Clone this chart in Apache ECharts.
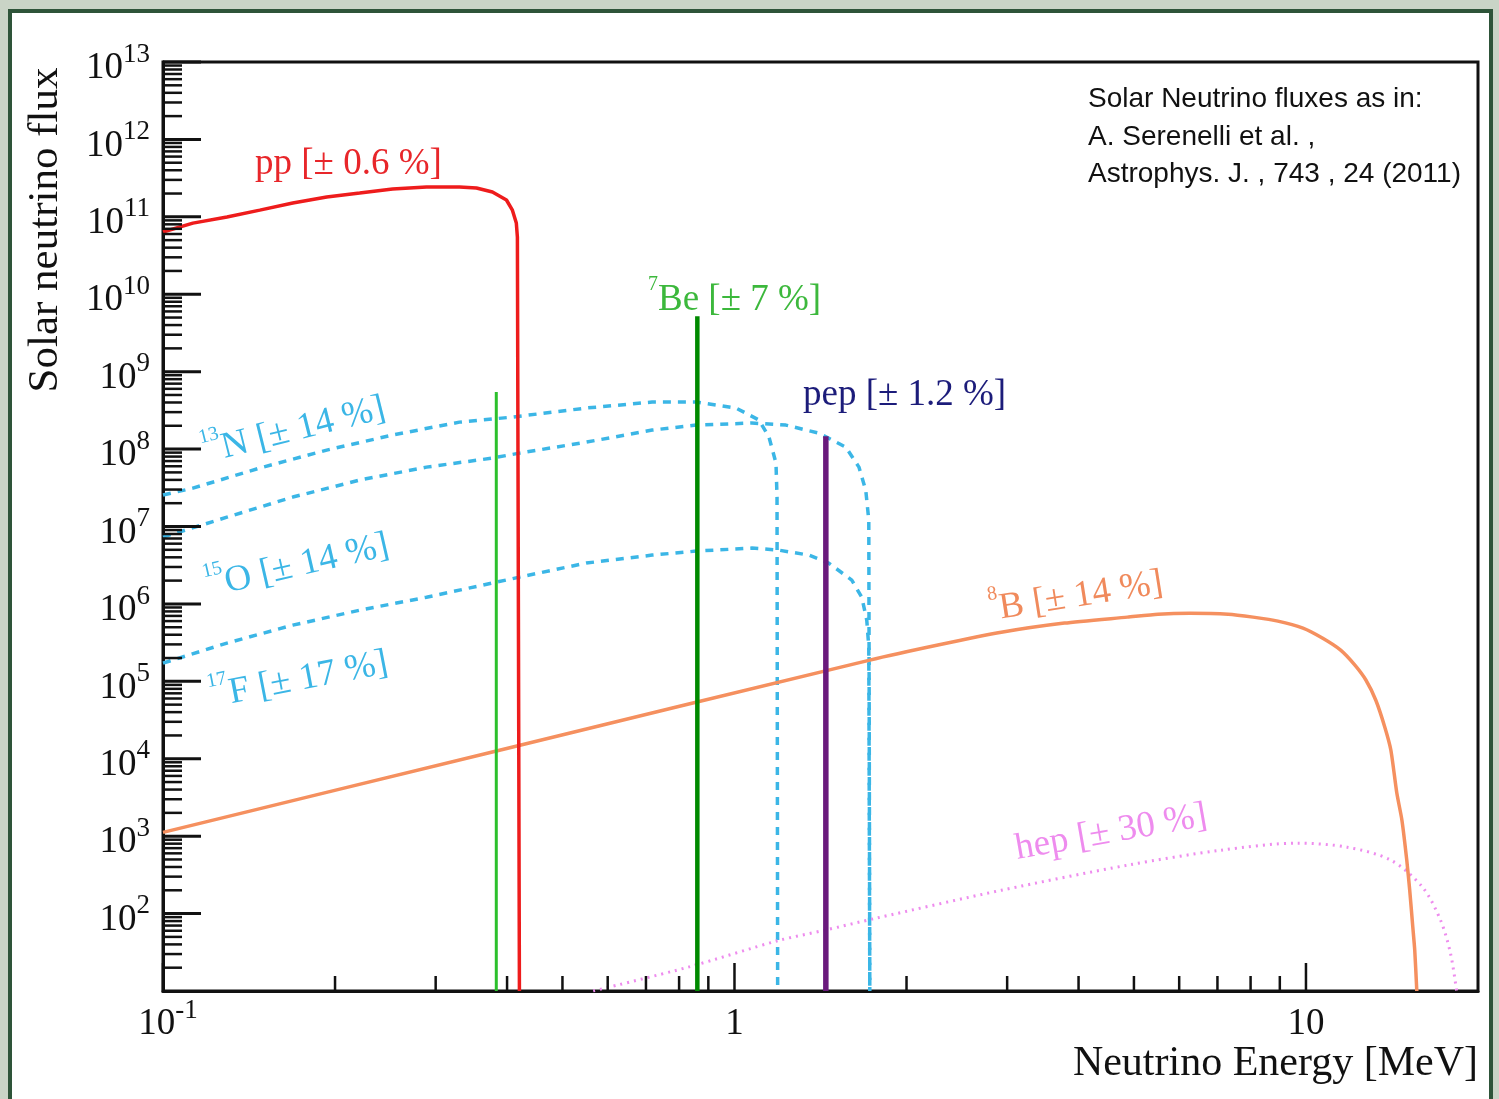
<!DOCTYPE html>
<html>
<head>
<meta charset="utf-8">
<script src="https://cdn.jsdelivr.net/npm/echarts@6/dist/echarts.min.js"></script>
<style>
  html, body { margin: 0; padding: 0; }
  #main { width: 1499px; height: 1099px; }
</style>
</head>
<body>
<div id="main"></div>
<script>
// energies in MeV, fluxes
var ppE = [0.1, 0.1128, 0.1294, 0.1477, 0.1687, 0.1934, 0.2209, 0.2522, 0.2891, 0.3302, 0.3536, 0.3771, 0.399, 0.4087, 0.4152, 0.417, 0.4204];
var ppFlux = [6.36e10, 8.3e10, 9.94e10, 1.22e11, 1.51e11, 1.80e11, 2.03e11, 2.29e11, 2.43e11, 2.43e11, 2.36e11, 2.09e11, 1.65e11, 1.22e11, 8.3e10, 5.48e10, 10];

var n13E = [0.1, 0.1128, 0.1477, 0.1934, 0.2522, 0.3302, 0.4087, 0.5503, 0.7177, 0.8567, 1.006, 1.104, 1.149, 1.182, 1.187, 1.19];
var n13Flux = [2.55e7, 3.13e7, 5.69e7, 9.7e7, 1.52e8, 2.23e8, 2.59e8, 3.39e8, 4.05e8, 4.05e8, 3.39e8, 2.37e8, 1.43e8, 6.6e7, 2.4e7, 10];

var o15E = [0.1, 0.1294, 0.1687, 0.2209, 0.2891, 0.3771, 0.4204, 0.5503, 0.7177, 0.8567, 1.073, 1.230, 1.404, 1.566, 1.651, 1.697, 1.718, 1.725];
var o15Flux = [7.3e6, 1.32e7, 2.4e7, 3.98e7, 5.85e7, 7.65e7, 8.87e7, 1.23e8, 1.76e8, 2.04e8, 2.17e8, 2.04e8, 1.61e8, 1.06e8, 5.85e7, 2.95e7, 1.21e7, 10];

var f17E = [0.1, 0.1294, 0.1687, 0.2209, 0.2891, 0.3771, 0.4204, 0.5503, 0.7177, 0.8567, 1.073, 1.196, 1.349, 1.462, 1.604, 1.670, 1.704, 1.718, 1.725];
var f17Flux = [1.72e5, 3.12e5, 5.32e5, 8.3e5, 1.22e6, 1.86e6, 2.22e6, 3.37e6, 4.27e6, 4.81e6, 5.26e6, 4.95e6, 4.27e6, 3.37e6, 2.03e6, 1.22e6, 6.18e5, 2.77e5, 10];

var b8E = [0.1, 0.388, 1.725, 2.27, 2.93, 3.78, 4.87, 5.51, 6.27, 7.31, 8.08, 8.93, 9.88, 10.7, 11.5, 12.18, 12.73, 13.25, 13.74, 14.08, 14.42, 14.72, 15.01, 15.19, 15.38, 15.5, 15.63];
var b8Flux = [1.12e3, 1.29e4, 1.88e5, 2.94e5, 4.3e5, 5.65e5, 6.75e5, 7.38e5, 7.6e5, 7.38e5, 6.75e5, 6.0e5, 4.87e5, 3.6e5, 2.53e5, 1.62e5, 1.04e5, 5.7e4, 2.56e4, 1.29e4, 3.6e3, 1.61e3, 490, 200, 66.7, 33.7, 10];

var hepE = [0.566, 0.829, 1.196, 1.439, 1.767, 2.93, 4.87, 7.10, 9.65, 11.8, 14.08, 16.0, 17.2, 17.9, 18.35];
var hepFlux = [10, 20.3, 45, 61, 87, 200, 422, 659, 813, 721, 490, 219, 82, 30.8, 10];

// mono-energetic lines: 7Be (0.384), 7Be (0.862), pep
var lineE = [0.383, 0.861, 1.445];
var lineTop = [5.45e8, 5.2e9, 1.47e8];

// axis ticks
var yMajorTicks = [1e2, 1e3, 1e4, 1e5, 1e6, 1e7, 1e8, 1e9, 1e10, 1e11, 1e12, 1e13];
var yDecades = [1e1, 1e2, 1e3, 1e4, 1e5, 1e6, 1e7, 1e8, 1e9, 1e10, 1e11, 1e12];
var minorMult = [2, 3, 4, 5, 6, 7, 8, 9];
var xMajorTicks = [0.1, 1, 10];
var xDecades = [0.1, 1];

var serif = 'Liberation Serif';
var yMin = 10, xMin = 0.1;

function pairs(xs, ys) {
  return xs.map(function (x, i) { return [x, ys[i]]; });
}

// tick data: [x, y, kind]  kind 0 y-minor, 1 y-major, 2 x-minor, 3 x-major
var tickData = [];
yDecades.forEach(function (d) {
  minorMult.forEach(function (m) { tickData.push([xMin, d * m, 0]); });
});
yMajorTicks.forEach(function (v) { tickData.push([xMin, v, 1]); });
xDecades.forEach(function (d) {
  minorMult.forEach(function (m) { tickData.push([d * m, yMin, 2]); });
});
xMajorTicks.forEach(function (v) { tickData.push([v, yMin, 3]); });

var numRich = {
  b: { fontFamily: serif, fontSize: 37, lineHeight: 46, verticalAlign: 'bottom', fill: '#111' },
  s: { fontFamily: serif, fontSize: 27, lineHeight: 24, verticalAlign: 'top', fill: '#111' }
};

function expLabel(v) {
  var e = Math.round(Math.log10(v));
  if (e === 0) return '{b|1}';
  if (e === 1) return '{b|10}';
  return '{b|10}{s|' + e + '}';
}

function renderTick(params, api) {
  var x = api.value(0), y = api.value(1), kind = api.value(2);
  var p = api.coord([x, y]);
  var children = [];
  if (kind < 2) {
    var len = kind === 1 ? 38 : 19;
    children.push({ type: 'line', shape: { x1: p[0], y1: p[1], x2: p[0] + len, y2: p[1] },
      style: { stroke: '#111', lineWidth: kind === 1 ? 3 : 2.5 } });
    if (kind === 1) {
      children.push({ type: 'text', x: p[0] - 13, y: p[1] + 2,
        style: { text: expLabel(y), rich: numRich, align: 'right', verticalAlign: 'middle' } });
    }
  } else {
    var h = kind === 3 ? 28 : 15;
    children.push({ type: 'line', shape: { x1: p[0], y1: p[1], x2: p[0], y2: p[1] - h },
      style: { stroke: '#111', lineWidth: 2.5 } });
    if (kind === 3) {
      children.push({ type: 'text', x: p[0] + (x < 1 ? 5 : 0), y: p[1] + 6,
        style: { text: x < 1 ? '{b|10}{s|-1}' : expLabel(x), rich: numRich, align: 'center', verticalAlign: 'top' } });
    }
  }
  return { type: 'group', children: children };
}

function curve(name, xs, ys, color, type, width, smooth) {
  return {
    name: name, type: 'line', data: pairs(xs, ys), symbol: 'none', smooth: smooth || false,
    lineStyle: { color: color, width: width, type: type }, z: 3
  };
}

function monoLine(i, color, width) {
  return {
    type: 'line', symbol: 'none', z: 5,
    data: [[lineE[i], yMin], [lineE[i], lineTop[i]]],
    lineStyle: { color: color, width: width }
  };
}

function noteRich(color) {
  return {
    b: { fontFamily: serif, fontSize: 37, lineHeight: 44, verticalAlign: 'bottom', fill: color },
    s: { fontFamily: serif, fontSize: 20, lineHeight: 20, verticalAlign: 'top', fill: color }
  };
}

function note(x, y, deg, text, color) {
  return {
    type: 'text', x: x, y: y, rotation: deg * Math.PI / 180, z: 20,
    style: { text: text, rich: noteRich(color), align: 'left', verticalAlign: 'middle',
      font: '37px "' + serif + '"', fill: color }
  };
}

var cnoColor = '#3bb6e6';

var chart = echarts.init(document.getElementById('main'));
chart.setOption({
  backgroundColor: '#c9d4c6',
  animation: false,
  grid: { left: 163, right: 21, top: 62, bottom: 108, show: true, borderColor: '#111', borderWidth: 3, backgroundColor: 'transparent' },
  xAxis: {
    type: 'log', logBase: 10, min: 0.1, max: 20,
    axisLine: { show: true, lineStyle: { color: '#111', width: 3 } },
    axisTick: { show: false }, axisLabel: { show: false }, splitLine: { show: false }
  },
  yAxis: {
    type: 'log', logBase: 10, min: 10, max: 1e13,
    axisLine: { show: true, lineStyle: { color: '#111', width: 3 } },
    axisTick: { show: false }, axisLabel: { show: false }, splitLine: { show: false }
  },
  graphic: [
    { type: 'rect', z: -1, shape: { x: 10, y: 11, width: 1481, height: 1110 },
      style: { fill: '#fff', stroke: '#2e5439', lineWidth: 4 } },
    { type: 'text', x: 46, y: 230, rotation: Math.PI / 2, z: 20,
      style: { text: 'Solar neutrino flux', font: '43px "' + serif + '"', fill: '#111', align: 'center', verticalAlign: 'middle' } },
    { type: 'text', x: 1478, y: 1064, z: 20,
      style: { text: 'Neutrino Energy [MeV]', font: '42px "' + serif + '"', fill: '#111', align: 'right', verticalAlign: 'middle' } },
    { type: 'text', x: 1088, y: 81, z: 20,
      style: { text: 'Solar Neutrino fluxes as in:\nA. Serenelli et al. ,\nAstrophys. J. , 743 , 24 (2011)',
        font: '28px "Liberation Sans"', lineHeight: 37.5, fill: '#111', align: 'left', verticalAlign: 'top' } },
    note(255, 161, 0, '{b|pp [± 0.6 %]}', '#e8262a'),
    note(648, 297, 0, '{s|7}{b|Be [± 7 %]}', '#3cb83c'),
    note(803, 392, 0, '{b|pep [± 1.2 %]}', '#1c1c7a'),
    note(202, 450, 14, '{s|13}{b|N [± 14 %]}', cnoColor),
    note(205, 584, 13, '{s|15}{b|O [± 14 %]}', cnoColor),
    note(209, 694, 11, '{s|17}{b|F [± 17 %]}', cnoColor),
    note(989, 607, 9, '{s|8}{b|B [± 14 %]}', '#f08a5c'),
    note(1015, 846, 10, '{b|hep [± 30 %]}', '#ee8cee')
  ],
  series: [
    curve('13N', n13E, n13Flux, cnoColor, [8, 7], 3.5),
    curve('15O', o15E, o15Flux, cnoColor, [8, 7], 3.5),
    curve('17F', f17E, f17Flux, cnoColor, [8, 7], 3.5),
    curve('hep', hepE, hepFlux, '#ee8cee', [2, 5], 3, 0.3),
    curve('8B', b8E, b8Flux, '#f5905f', 'solid', 3.5, 0.2),
    curve('pp', ppE, ppFlux, '#ee1c1c', 'solid', 3.5),
    monoLine(0, '#2cc02c', 3),
    monoLine(1, '#008a00', 4.5),
    monoLine(2, '#6a1a7c', 5.5),
    {
      type: 'custom', renderItem: renderTick, data: tickData, clip: false, z: 10, silent: true
    }
  ]
});
</script>
</body>
</html>
